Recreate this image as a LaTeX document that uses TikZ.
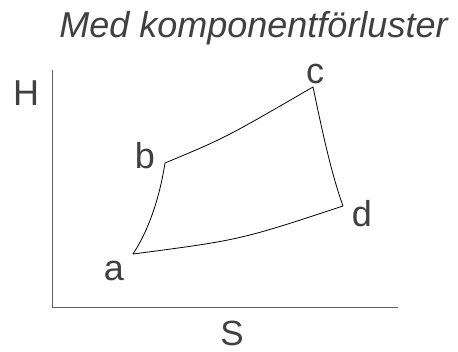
\documentclass[tikz,border=0pt]{standalone}
\usepackage{fontspec}
\setmainfont{Liberation Sans}
\definecolor{txt}{HTML}{404040}
\definecolor{axis}{HTML}{606060}
\begin{document}
\begin{tikzpicture}[x=1pt,y=-1pt,
  lbl/.style={text=txt,font=\fontsize{36}{36}\selectfont,inner sep=0pt,anchor=base},
  ttl/.style={text=txt,font=\fontsize{36}{36}\selectfont\itshape,inner sep=0pt,anchor=base},
  curve/.style={draw=black,line width=0.8pt},
  axisline/.style={draw=axis,line width=1pt}]
\useasboundingbox (0,0) rectangle (458,351);
\node[ttl] (title) at (253.5,37.3) {Med komponentförluster};
\coordinate (o) at (52,307);
\coordinate (ytop) at (52,70);
\coordinate (xend) at (398,307);
\draw[axisline] (ytop) -- (o) -- (xend);
\node[lbl] (H) at (26,105) {H};
\node[lbl,font=\fontsize{35}{35}\selectfont] (S) at (232,345) {S};
\coordinate (a) at (133,254);
\coordinate (b) at (165,163);
\coordinate (c) at (313,87);
\coordinate (d) at (343,206);
\draw[curve] (a) .. controls (150,228) and (160,195) .. (b);
\draw[curve] (b) .. controls (225,138) .. (c);
\draw[curve] (c) .. controls (320,120) and (330,170) .. (d);
\draw[curve] (d) .. controls (240,240) .. (a);
\node[lbl] (la) at (114,280) {a};
\node[lbl] (lb) at (145,168.3) {b};
\node[lbl] (lc) at (315,83.3) {c};
\node[lbl] (ld) at (362,226.7) {d};
\end{tikzpicture}
\end{document}
